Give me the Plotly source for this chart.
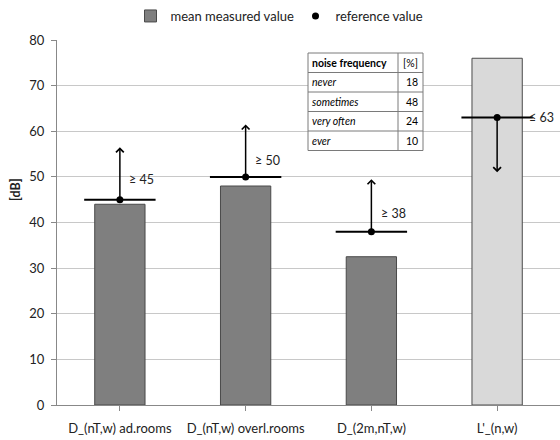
import plotly.graph_objects as go

# ---- data ----
categories = ["D_(nT,w) ad.rooms", "D_(nT,w) overl.rooms", "D_(2m,nT,w)", "L'_(n,w)"]
mean_measured = [44, 48, 32.5, 76]
reference = [45, 50, 38, 63]
arrow_end = [56.5, 61.5, 49.5, 51]
ref_labels = ["≥ 45", "≥ 50", "≥ 38", "≤ 63"]
table_header = ["noise frequency", "[%]"]
freq_labels = ["never", "sometimes", "very often", "ever"]
freq_pct = [18, 48, 24, 10]
y_ticks = [0, 10, 20, 30, 40, 50, 60, 70, 80]

FONT = "Lato"
TXT = "#222222"
bar_colors = ["#7f7f7f", "#7f7f7f", "#7f7f7f", "#d9d9d9"]
idx = list(range(len(categories)))

plot_l, plot_r, plot_t, plot_b = 57, 560, 40, 405
W, H = 560, 440
pw, ph = plot_r - plot_l, plot_b - plot_t


def px_x(p):
    return (p - plot_l) / pw


def px_y(p):
    return (plot_b - p) / ph


fig = go.Figure()
fig.add_trace(go.Bar(
    x=idx, y=mean_measured, width=0.40, name="mean measured value",
    marker=dict(color=bar_colors, line=dict(color="#4a4a4a", width=1)),
))
fig.add_trace(go.Scatter(
    x=idx, y=reference, mode="markers", showlegend=False, hoverinfo="skip",
    marker=dict(symbol="line-ew", size=51, line=dict(color="black", width=2)),
))
fig.add_trace(go.Scatter(
    x=idx, y=reference, mode="markers", name="reference value",
    marker=dict(symbol="circle", size=7, color="black"),
))

annotations = []
shapes = []
for i in idx:
    annotations.append(dict(
        x=i, y=arrow_end[i], ax=i, ay=reference[i], xref="x", yref="y",
        axref="x", ayref="y", text="", showarrow=True,
        arrowhead=4, arrowsize=1, arrowwidth=1.5, arrowcolor="black",
    ))
label_dx = [0.06, 0.06, 0.06, 0.24]
label_y = [49.5, 53.5, 42, 63]
for i in idx:
    annotations.append(dict(
        x=i + label_dx[i], y=label_y[i], xref="x", yref="y",
        text=ref_labels[i], showarrow=False, xanchor="left", yanchor="middle",
        font=dict(family=FONT, size=12.5, color=TXT),
    ))
annotations.append(dict(
    x=px_x(15), y=px_y(190), xref="paper", yref="paper", text="<b>[dB]</b>",
    showarrow=False, textangle=-90, xanchor="center", yanchor="middle",
    font=dict(family=FONT, size=12.5, color=TXT),
))

# ---- small table (noise frequency) ----
t_left, t_split, t_right, t_top = 308, 398, 423, 53
row_h = 19.5
n_rows = len(freq_labels) + 1
t_bottom = t_top + n_rows * row_h
tline = dict(color="#7a7a7a", width=1)
shapes.append(dict(type="rect", xref="paper", yref="paper",
                   x0=px_x(t_left), x1=px_x(t_right), y0=px_y(t_bottom), y1=px_y(t_top),
                   fillcolor="white", line=tline, layer="above"))
shapes.append(dict(type="line", xref="paper", yref="paper",
                   x0=px_x(t_split), x1=px_x(t_split), y0=px_y(t_bottom), y1=px_y(t_top),
                   line=tline, layer="above"))
for r in range(1, n_rows):
    yy = t_top + r * row_h
    shapes.append(dict(type="line", xref="paper", yref="paper",
                       x0=px_x(t_left), x1=px_x(t_right), y0=px_y(yy), y1=px_y(yy),
                       line=tline, layer="above"))
rows = [("<b>%s</b>" % table_header[0], table_header[1], "center")] + \
       [("<i>%s</i>" % lab, str(v), "right") for lab, v in zip(freq_labels, freq_pct)]
for r, (c1, c2, al) in enumerate(rows):
    yc = t_top + (r + 0.5) * row_h
    annotations.append(dict(x=px_x(t_left + 2), y=px_y(yc), xref="paper", yref="paper",
                            text=c1, showarrow=False, xanchor="left", yanchor="middle",
                            font=dict(family=FONT, size=10.5, color="black")))
    if al == "center":
        annotations.append(dict(x=px_x((t_split + t_right) / 2), y=px_y(yc), xref="paper",
                                yref="paper", text=c2, showarrow=False, xanchor="center",
                                yanchor="middle", font=dict(family=FONT, size=10.5, color="black")))
    else:
        annotations.append(dict(x=px_x(t_right - 3), y=px_y(yc), xref="paper",
                                yref="paper", text=c2, showarrow=False, xanchor="right",
                                yanchor="middle", font=dict(family=FONT, size=10.5, color="black")))

fig.update_layout(
    width=W, height=H,
    margin=dict(l=plot_l, r=W - plot_r, t=plot_t, b=H - plot_b, autoexpand=False),
    paper_bgcolor="white", plot_bgcolor="white",
    font=dict(family=FONT, size=13, color=TXT),
    showlegend=True,
    legend=dict(orientation="h", x=px_x(295.5), xanchor="center", y=px_y(16), yanchor="middle",
                font=dict(family=FONT, size=13, color=TXT),
                itemwidth=30, tracegroupgap=0, entrywidth=120),
    annotations=annotations,
    shapes=shapes,
    xaxis=dict(
        range=[-0.5, 3.5], tickmode="array", tickvals=idx, ticktext=categories,
        showgrid=False, showline=True, linecolor="#888888", linewidth=1,
        ticks="outside", ticklen=5, tickcolor="#888888", tickson="boundaries",
        ticklabelstandoff=6, tickfont=dict(family=FONT, size=13, color=TXT),
        zeroline=False, automargin=False,
    ),
    yaxis=dict(
        range=[0, 80], tickvals=y_ticks, showgrid=True, gridcolor="#c8c8c8",
        gridwidth=1, showline=True, linecolor="#888888", linewidth=1,
        ticks="outside", ticklen=5, tickcolor="#888888", ticklabelstandoff=4,
        tickfont=dict(family=FONT, size=13, color=TXT),
        zeroline=False, automargin=False,
    ),
    bargap=0.6,
)

fig.write_html("out.html", config={"displayModeBar": False},
               post_script="document.body.style.margin='0';")
